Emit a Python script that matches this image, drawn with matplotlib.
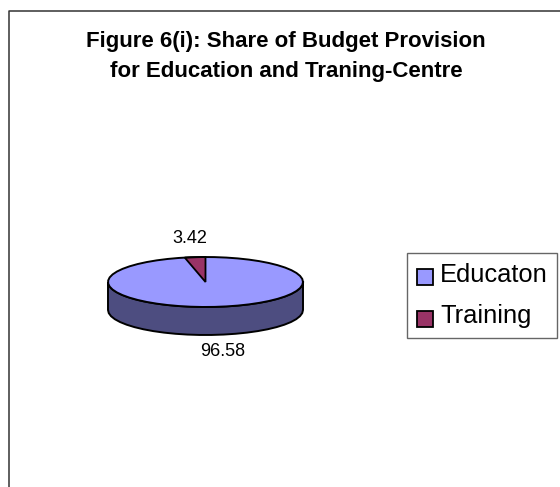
import numpy as np
import matplotlib
matplotlib.use("Agg")
import matplotlib.pyplot as plt
from matplotlib.patches import Wedge, Rectangle

categories = ["Educaton", "Training"]
values = [96.58, 3.42]
value_labels = ["96.58", "3.42"]
colors = ["#9999FF", "#993366"]
side_color = "#4D4D80"
title_lines = ["Figure 6(i): Share of Budget Provision", "for Education and Traning-Centre"]

W, H = 560, 487
plt.rcParams["font.family"] = ["Liberation Sans", "DejaVu Sans"]
fig = plt.figure(figsize=(W / 100, H / 100), dpi=100, facecolor="white")

bg = fig.add_axes([0, 0, 1, 1])
bg.set_xlim(0, W); bg.set_ylim(H, 0); bg.axis("off")
bg.plot([8.5, 8.5, W], [H, 11, 11], color="#333333", lw=1.1, solid_capstyle="butt")

bg.text(285.5, 47, title_lines[0], ha="center", va="baseline", fontsize=16, fontweight="bold", color="black")
bg.text(286, 77, title_lines[1], ha="center", va="baseline", fontsize=16, fontweight="bold", color="black")

cx, cy, a, b, depth = 205.5, 282, 97.5, 25, 28
ax = fig.add_axes([(cx - a) / W, 1 - (cy + b) / H, 2 * a / W, 2 * b / H])
ax.set_xlim(-1, 1); ax.set_ylim(-1, 1); ax.axis("off")
d = depth / b
t = np.linspace(np.pi, 2 * np.pi, 26)
xs = np.concatenate([np.cos(t), np.cos(t[::-1])])
ys = np.concatenate([np.sin(t) - d, np.sin(t[::-1])])
ax.fill(xs, ys, facecolor=side_color, edgecolor="black", lw=1.4, clip_on=False)

total = sum(values)
start = 90
split = start + 360 * values[1] / total
ax.add_patch(Wedge((0, 0), 1, split, start + 360, facecolor=colors[0], edgecolor="none", clip_on=False))
ax.add_patch(Wedge((0, 0), 1, start, split, facecolor=colors[1], edgecolor="black", lw=1.3, clip_on=False))
th = np.linspace(0, 2 * np.pi, 52)
ax.plot(np.cos(th), np.sin(th), color="black", lw=1.4, clip_on=False)

bg.text(223, 356, value_labels[0], ha="center", va="baseline", fontsize=13, color="black")
bg.text(190, 243, value_labels[1], ha="center", va="baseline", fontsize=13, color="black")

bg.add_patch(Rectangle((407, 253), 150, 85, facecolor="white", edgecolor="#666666", lw=1))
for sy, ty, c, lab in zip([269, 311], [282, 323], colors, categories):
    bg.add_patch(Rectangle((417, sy), 16, 16, facecolor=c, edgecolor="black", lw=1.3))
    bg.text(440, ty, lab, ha="left", va="baseline", fontsize=18.4, color="black")

fig.savefig("out.png", dpi=100, facecolor="white")
